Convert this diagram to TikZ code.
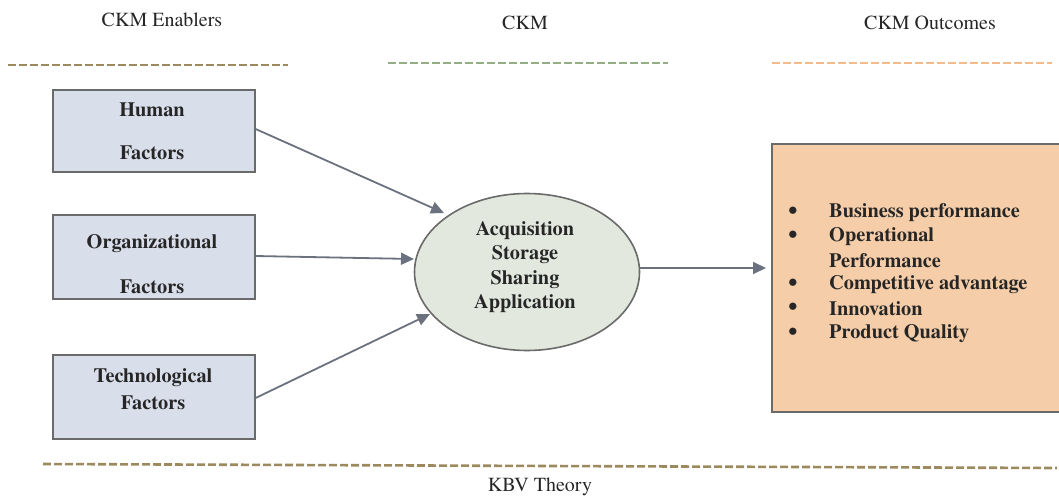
\documentclass[tikz,border=0pt]{standalone}
\usepackage{fontspec}
\setmainfont{texgyretermes}[Extension=.otf, UprightFont=*-regular, BoldFont=*-bold, ItalicFont=*-italic, BoldItalicFont=*-bolditalic]
\usetikzlibrary{arrows.meta,shapes.geometric}
\definecolor{enabfill}{HTML}{D9DEEB}
\definecolor{ckmfill}{HTML}{E2E8DE}
\definecolor{outfill}{HTML}{F5CDA8}
\definecolor{edgegray}{HTML}{6A6A6A}
\definecolor{arrowgray}{HTML}{6B717E}
\definecolor{brownline}{HTML}{9C8A5E}
\definecolor{greenline}{HTML}{93AD84}
\definecolor{orangeline}{HTML}{F3BA8C}
\tikzset{
  enabler/.style={draw=edgegray, line width=1.6pt, fill=enabfill, minimum width=202pt, anchor=north west},
  boxtext/.style={font=\fontsize{20.3}{20}\selectfont\bfseries, text=black!85, inner sep=0pt},
  header/.style={font=\fontsize{20}{20}\selectfont, text=black!85, inner sep=0pt},
  bullet/.style={font=\fontsize{26}{26}\selectfont\bfseries, text=black!85, inner sep=0pt},
  sepline/.style={line width=2.6pt, dash pattern=on 8pt off 3pt},
  flow/.style={draw=arrowgray, line width=1.8pt, -{Triangle[length=13pt,width=12pt]}},
}
\begin{document}
\begin{tikzpicture}[x=1pt,y=-1pt]
\useasboundingbox (0,0) rectangle (1059,498);

% column headings
\node[header] (hEnab) at (162,20) {CKM Enablers};
\node[header] (hCkm)  at (525,23) {CKM};
\node[header] (hOut)  at (930,23) {CKM Outcomes};

% separators
\draw[sepline, draw=brownline]  (8,65) -- (288,65);
\draw[sepline, draw=greenline]  (388,63) -- (668,63);
\draw[sepline, draw=orangeline] (772,63) -- (1052,63);
\draw[sepline, draw=brownline]  (43,464) -- (1057,468);

\node[header] (hKbv) at (540,487) {KBV Theory};

% enabler boxes
\node[enabler, minimum height=82pt] (human) at (52,89) {};
\node[boxtext] (humanA) at (152,110) {Human};
\node[boxtext] (humanB) at (152,153) {Factors};

\node[enabler, minimum height=84pt] (org) at (52,214) {};
\node[boxtext] (orgA) at (152,244) {Organizational};
\node[boxtext] (orgB) at (152,287) {Factors};

\node[enabler, minimum height=84pt] (tech) at (52,354) {};
\node[boxtext] (techA) at (153,378) {Technological};
\node[boxtext] (techB) at (153,403) {Factors};

% knowledge management processes
\node[ellipse, draw=edgegray, line width=1.6pt, fill=ckmfill,
      minimum width=225pt, minimum height=157pt] (ckm) at (527,272) {};
\node[boxtext, align=center] (ckmText) at (525,267)
  {Acquisition\\[4.5pt]Storage\\[4.5pt]Sharing\\[4.5pt]Application};

% outcomes
\node[draw=edgegray, line width=1.6pt, fill=outfill, anchor=north west,
      minimum width=300pt, minimum height=268pt] (out) at (771,143) {};
\begin{scope}[every node/.style={boxtext, anchor=west}]
  \node[bullet, anchor=center] (b1) at (793,213) {•}; \node (t1) at (829,213) {Business performance};
  \node[bullet, anchor=center] (b2) at (793,237) {•}; \node (t2) at (829,237) {Operational};
                                                    \node (t2b) at (829,261) {Performance};
  \node[bullet, anchor=center] (b3) at (793,285) {•}; \node (t3) at (829,285) {Competitive advantage};
  \node[bullet, anchor=center] (b4) at (793,309) {•}; \node (t4) at (829,309) {Innovation};
  \node[bullet, anchor=center] (b5) at (793,334) {•}; \node (t5) at (829,334) {Product Quality};
\end{scope}

% connectors
\coordinate (endHuman) at (444,213);
\coordinate (endOrg) at (414,259);
\coordinate (endTech) at (430,314);
\coordinate (endOut) at (766,268);
\draw[flow] (human.east |- 0,129) -- (endHuman);
\draw[flow] (org.east |- 0,256) -- (endOrg);
\draw[flow] (tech.east |- 0,398) -- (endTech);
\draw[flow] (ckm.east |- 0,268) -- (endOut);
\end{tikzpicture}
\end{document}
